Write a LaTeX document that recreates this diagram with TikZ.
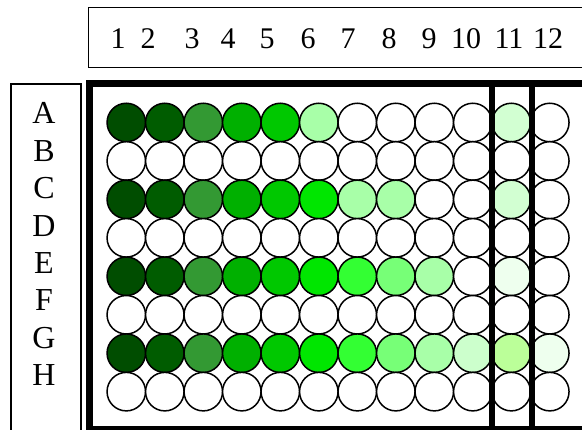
\documentclass[tikz,border=0pt]{standalone}
\usepackage{fontspec}
\setmainfont{Liberation Serif}
\definecolor{ga}{HTML}{004D00}
\definecolor{gb}{HTML}{005C00}
\definecolor{gc}{HTML}{339933}
\definecolor{gd}{HTML}{00B000}
\definecolor{ge}{HTML}{00C800}
\definecolor{gf}{HTML}{00E600}
\definecolor{gg}{HTML}{33FF33}
\definecolor{gh}{HTML}{77FF77}
\definecolor{gi}{HTML}{A8FFA8}
\definecolor{gj}{HTML}{CCFFCC}
\definecolor{gk}{HTML}{D2FFD2}
\definecolor{gl}{HTML}{BBFF99}
\definecolor{gm}{HTML}{EEFFEE}
\definecolor{gw}{HTML}{FFFFFF}
\tikzset{
  well/.style={circle, draw=black, line width=1.5pt, minimum size=38.5pt, inner sep=0pt},
  lbox/.style={draw=black, line width=1.3pt},
  numtxt/.style={font=\fontsize{30}{36}\selectfont, anchor=base, inner sep=0pt},
  lettxt/.style={font=\fontsize{32}{37}\selectfont, anchor=base, inner sep=0pt},
  frame/.style={draw=black, line width=7pt},
  divider/.style={draw=black, line width=5.7pt}
}
\begin{document}
\begin{tikzpicture}[x=1pt,y=-1pt]
\useasboundingbox (0,0) rectangle (582,430);
% number box
\draw[lbox] (88.3,7.3) rectangle (620,67.7);
\foreach \n/\xx in {1/118,2/148,3/192,4/228,5/267,6/308,7/348,8/389,9/429,10/466,11/509,12/548}
  \node[numtxt] (n\n) at (\xx,48.3) {\n};
% letter box
\draw[lbox] (11,84) rectangle (81,460);
\foreach \l [count=\i from 0] in {A,B,C,D,E,F,G,H}
  \node[lettxt] (l\l) at (44,124+37.35*\i) {\l};
% wells
\foreach \r/\cols [count=\ri from 0] in {
  A/{ga,gb,gc,gd,ge,gi,gw,gw,gw,gw,gk,gw},
  B/{gw,gw,gw,gw,gw,gw,gw,gw,gw,gw,gw,gw},
  C/{ga,gb,gc,gd,ge,gf,gi,gi,gw,gw,gk,gw},
  D/{gw,gw,gw,gw,gw,gw,gw,gw,gw,gw,gw,gw},
  E/{ga,gb,gc,gd,ge,gf,gg,gh,gi,gw,gm,gw},
  F/{gw,gw,gw,gw,gw,gw,gw,gw,gw,gw,gw,gw},
  G/{ga,gb,gc,gd,ge,gf,gg,gh,gi,gj,gl,gm},
  H/{gw,gw,gw,gw,gw,gw,gw,gw,gw,gw,gw,gw}}
  \foreach \c [count=\ci from 0] in \cols
    \node[well, fill=\c] (w\r\ci) at (126.3+38.5*\ci, 122.5+38.45*\ri) {};
% plate frame and dividers
\draw[frame] (89.3,83.7) rectangle (620,429.3);
\draw[divider] (492.3,83.7) -- (492.3,429.3);
\draw[divider] (532,83.7) -- (532,429.3);
\end{tikzpicture}
\end{document}
